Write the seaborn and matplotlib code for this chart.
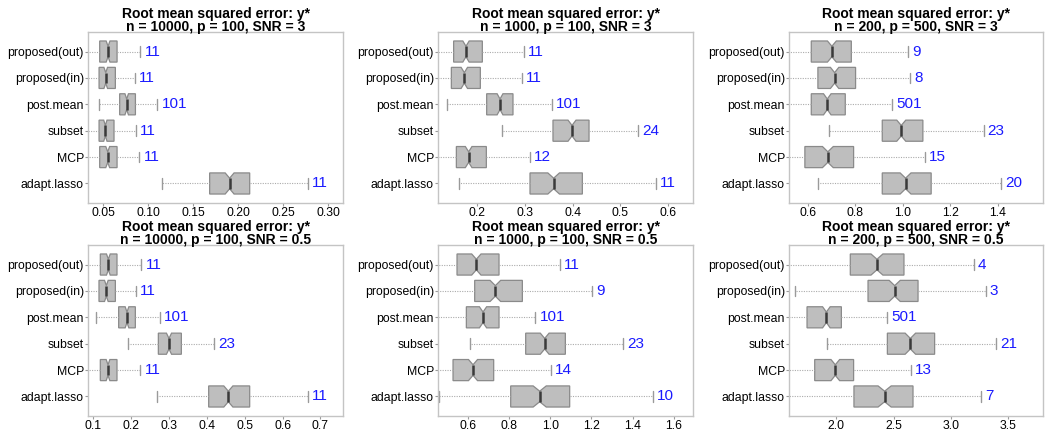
import numpy as np
import pandas as pd
import matplotlib
matplotlib.use("Agg")
import matplotlib.pyplot as plt
import seaborn as sns

# ---------------- data ----------------
methods = ["proposed(out)", "proposed(in)", "post.mean", "subset", "MCP", "adapt.lasso"]
main_title = "Root mean squared error: y*"
settings = [
    "n = 10000, p = 100, SNR = 3",
    "n = 1000, p = 100, SNR = 3",
    "n = 200, p = 500, SNR = 3",
    "n = 10000, p = 100, SNR = 0.5",
    "n = 1000, p = 100, SNR = 0.5",
    "n = 200, p = 500, SNR = 0.5",
]

# five-number summaries per method (lower whisker, Q1, median, Q3, upper whisker)
p1_lo = [0.031, 0.031, 0.0456, 0.031, 0.031, 0.116]
p1_q1 = [0.0463, 0.0456, 0.0685, 0.0456, 0.0463, 0.1685]
p1_med = [0.0556, 0.0530, 0.0763, 0.0526, 0.0552, 0.1907]
p1_q3 = [0.0656, 0.0637, 0.0860, 0.0622, 0.0656, 0.2130]
p1_hi = [0.0915, 0.0856, 0.1104, 0.0867, 0.0904, 0.2778]
p1_n = [11, 11, 101, 11, 11, 11]

p2_lo = [0.110, 0.110, 0.1364, 0.251, 0.110, 0.1608]
p2_q1 = [0.1503, 0.1455, 0.2196, 0.3587, 0.1560, 0.3105]
p2_med = [0.1762, 0.1727, 0.2476, 0.3986, 0.1818, 0.3601]
p2_q3 = [0.2105, 0.2063, 0.2748, 0.4343, 0.2189, 0.4203]
p2_hi = [0.2972, 0.2930, 0.3560, 0.5378, 0.3105, 0.5741]
p2_n = [11, 11, 101, 24, 12, 11]

p3_lo = [0.50, 0.50, 0.50, 0.6886, 0.50, 0.642]
p3_q1 = [0.614, 0.642, 0.614, 0.9136, 0.587, 0.9136]
p3_med = [0.701, 0.7125, 0.6816, 0.9938, 0.684, 1.012]
p3_q3 = [0.783, 0.801, 0.7575, 1.085, 0.7927, 1.120]
p3_hi = [1.022, 1.032, 0.956, 1.341, 1.094, 1.416]
p3_n = [9, 8, 501, 23, 15, 20]

p4_lo = [0.080, 0.080, 0.1088, 0.1923, 0.080, 0.2689]
p4_q1 = [0.1193, 0.1158, 0.1677, 0.2724, 0.1193, 0.4052]
p4_med = [0.1405, 0.1352, 0.1897, 0.3005, 0.1396, 0.4571]
p4_q3 = [0.1633, 0.1590, 0.2117, 0.3331, 0.1633, 0.5134]
p4_hi = [0.2275, 0.2135, 0.2768, 0.4184, 0.2249, 0.6673]
p4_n = [11, 11, 101, 23, 11, 11]

p5_lo = [0.44, 0.44, 0.44, 0.6113, 0.44, 0.459]
p5_q1 = [0.5465, 0.6324, 0.5919, 0.8804, 0.5271, 0.8075]
p5_med = [0.6405, 0.7329, 0.6729, 0.9728, 0.6243, 0.9485]
p5_q3 = [0.7507, 0.8642, 0.7507, 1.0733, 0.7248, 1.0943]
p5_hi = [1.0457, 1.2045, 0.9274, 1.3537, 1.0020, 1.4995]
p5_n = [11, 9, 101, 23, 14, 10]

p6_lo = [1.55, 1.636, 1.55, 1.921, 1.55, 1.55]
p6_q1 = [2.122, 2.277, 1.744, 2.446, 1.811, 2.154]
p6_med = [2.355, 2.510, 1.913, 2.647, 1.991, 2.422]
p6_q3 = [2.591, 2.714, 2.044, 2.859, 2.151, 2.670]
p6_hi = [3.200, 3.305, 2.446, 3.392, 2.650, 3.261]
p6_n = [4, 3, 501, 21, 13, 7]

panels = [
    (p1_lo, p1_q1, p1_med, p1_q3, p1_hi, p1_n),
    (p2_lo, p2_q1, p2_med, p2_q3, p2_hi, p2_n),
    (p3_lo, p3_q1, p3_med, p3_q3, p3_hi, p3_n),
    (p4_lo, p4_q1, p4_med, p4_q3, p4_hi, p4_n),
    (p5_lo, p5_q1, p5_med, p5_q3, p5_hi, p5_n),
    (p6_lo, p6_q1, p6_med, p6_q3, p6_hi, p6_n),
]

x_ticks = [
    [0.05, 0.10, 0.15, 0.20, 0.25, 0.30],
    [0.2, 0.3, 0.4, 0.5, 0.6],
    [0.6, 0.8, 1.0, 1.2, 1.4],
    [0.1, 0.2, 0.3, 0.4, 0.5, 0.6, 0.7],
    [0.6, 0.8, 1.0, 1.2, 1.4, 1.6],
    [2.0, 2.5, 3.0, 3.5],
]
tick_fmt = ["{:.2f}", "{:.1f}", "{:.1f}", "{:.1f}", "{:.1f}", "{:.1f}"]

# ---------------- layout / style ----------------
x_limits = [(0.0333, 0.3167), (0.1175, 0.6524), (0.520, 1.592),
            (0.0868, 0.7596), (0.454, 1.694), (1.5864, 3.806)]
runs_per_quartile = 40   # each summary value stands for a block of runs

sns.set_theme(style="white")
plt.rcParams["font.family"] = ["Liberation Sans", "DejaVu Sans"]

W, H = 1050, 441
fig = plt.figure(figsize=(W / 100, H / 100), dpi=100)
col_left = [88, 438, 789]
col_width = [255, 255, 254]
row_top = [32, 245]
row_bottom = [203, 416]

BOX_FILL = "#BEBEBE"
EDGE = "#8A8A8A"

for k, (lo, q1, med, q3, hi, cnt) in enumerate(panels):
    r, c = divmod(k, 3)
    ax = fig.add_axes([col_left[c] / W, 1 - row_bottom[r] / H,
                       col_width[c] / W, (row_bottom[r] - row_top[r]) / H])
    rows = []
    for m, a, b, cc, d, e in zip(methods, lo, q1, med, q3, hi):
        vals = np.repeat([a, b, cc, d, e], runs_per_quartile)
        rows.append(pd.DataFrame({"method": m, "rmse": vals}))
    df = pd.concat(rows, ignore_index=True)

    sns.boxplot(
        data=df, x="rmse", y="method", order=methods, orient="h",
        ax=ax, notch=True, whis=(0, 100), width=0.8,
        color=BOX_FILL, saturation=1, linecolor=EDGE, linewidth=0.9,
        boxprops=dict(facecolor=BOX_FILL, edgecolor=EDGE),
        medianprops=dict(color="#3a3a3a", linewidth=1.8),
        whiskerprops=dict(color="#ABABAB", linestyle=(0, (1, 1.2)), linewidth=0.8),
        capprops=dict(color="#9A9A9A", linewidth=1.0),
        showfliers=False,
    )

    for i, (h, n) in enumerate(zip(hi, cnt)):
        ax.annotate(str(n), xy=(h, i), xytext=(3, 0), textcoords="offset points",
                    ha="left", va="center", color="#1a1aff", fontsize=11)

    ax.set_xlim(*x_limits[k])
    ax.set_ylim(5.74, -0.74)
    ax.set_xticks(x_ticks[k])
    ax.set_xticklabels([tick_fmt[k].format(t) for t in x_ticks[k]])
    ax.set_xlabel("")
    ax.set_ylabel("")
    ax.tick_params(axis="both", labelsize=8.8, colors="#9A9A9A", labelcolor="black",
                   length=2, width=0.8, pad=1, bottom=True, left=True)
    for sp in ax.spines.values():
        sp.set_color("#C4C4C4")
        sp.set_linewidth(1.0)
    ax.set_title(main_title + "\n" + settings[k], fontsize=10, fontweight="bold",
                 pad=0.5, color="black", linespacing=0.9)

fig.savefig("out.png", dpi=100)
